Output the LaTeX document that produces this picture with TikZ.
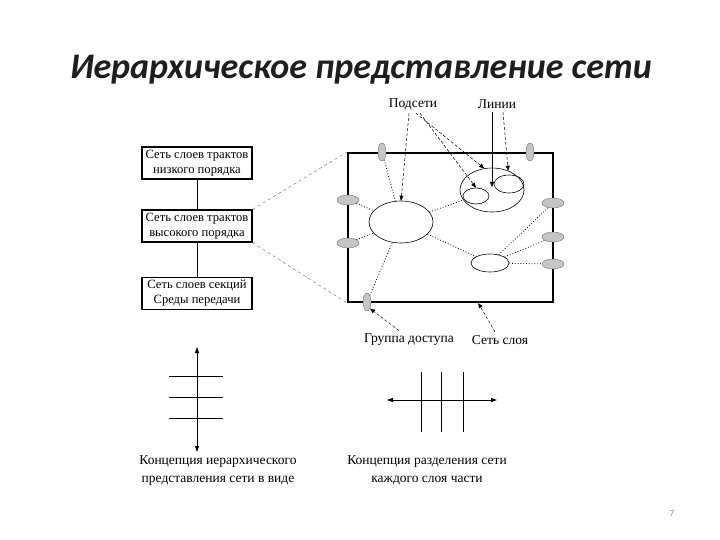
\documentclass[tikz,border=0pt]{standalone}
\usepackage{fontspec}
\setmainfont{Liberation Serif}
\newfontfamily\slidefont{Carlito}
\usetikzlibrary{arrows.meta,shapes.geometric,positioning,calc}
\definecolor{accessgray}{HTML}{C6C6C6}
\definecolor{titleink}{HTML}{1E1E1E}
\definecolor{pagegray}{HTML}{8C8C8C}

\begin{document}
\begin{tikzpicture}[x=1pt, y=-1pt,
  font=\fontsize{13.5}{15}\selectfont,
  title/.style={font=\slidefont\bfseries\itshape\fontsize{36}{40}\selectfont, text=titleink},
  layerbox/.style={draw, line width=1.3pt, align=center, inner sep=0pt,
    minimum width=110pt, minimum height=32pt, font=\fontsize{12.6}{15}\selectfont},
  netframe/.style={draw, line width=2pt, minimum width=205pt, minimum height=149pt, inner sep=0pt},
  subnet/.style={ellipse, draw, line width=0.6pt, inner sep=0pt},
  access/.style={ellipse, draw=black!55, fill=accessgray, line width=0.4pt, inner sep=0pt},
  vacc/.style={access, minimum width=8pt, minimum height=18pt},
  hacc/.style={access, minimum width=22pt, minimum height=10pt},
  link/.style={dotted, line width=0.8pt},
  pointer/.style={densely dashed, line width=0.5pt, -{Triangle[length=5pt,width=4pt]}},
  guide/.style={dashed, line width=0.4pt, draw=black!60},
  axis/.style={line width=0.8pt, {Triangle[length=6pt,width=4pt]}-{Triangle[length=6pt,width=4pt]}},
  caption/.style={align=center, font=\fontsize{13.5}{18}\selectfont}
]
\useasboundingbox (0,0) rectangle (720,540);

\node[title] (head) at (361,70) {Иерархическое представление сети};
\node[font=\slidefont\fontsize{9}{10}\selectfont, text=pagegray] (page) at (672,514) {7};

\node[layerbox] (low) at (197,163) {Сеть слоев трактов\\низкого порядка};
\node[layerbox] (high) at (197,226) {Сеть слоев трактов\\высокого порядка};
\node[layerbox] (media) at (197,293.5) {Сеть слоев секций\\Среды передачи};
\draw[line width=0.6pt] (low) -- (high);
\draw[line width=0.6pt] (high) -- (media);

\node[netframe] (net) at (450.5,227.5) {};
\draw[guide] (high.north east) -- (net.north west);
\draw[guide] (high.south east) -- (net.south west);

\node[subnet, minimum width=64pt, minimum height=42pt] (subA) at (401,222) {};
\node[subnet, minimum width=38pt, minimum height=18pt] (subB) at (490,263) {};
\node[subnet, minimum width=64pt, minimum height=44pt] (grp) at (492,190) {};
\node[subnet, minimum width=26pt, minimum height=16pt] (subC) at (476,196) {};
\node[subnet, minimum width=30pt, minimum height=18pt] (subD) at (509,184) {};
\coordinate (junc) at (492,187);

\node[vacc] (gT1) at (382,152) {};
\node[vacc] (gT2) at (530,152) {};
\node[hacc] (gL1) at (348,200) {};
\node[hacc] (gL2) at (348,243) {};
\node[hacc] (gR1) at (553,203) {};
\node[hacc] (gR2) at (553,237) {};
\node[hacc] (gR3) at (553,264) {};
\node[vacc] (gB) at (367,302) {};

\draw[link] (gT1) -- (subA);
\draw[link] (gL1) -- (subA);
\draw[link] (gL2) -- (subA);
\draw[link] (gB) -- (subA);
\draw[link] (subA) -- (subB);
\draw[link] (subA) -- (grp);
\draw[link] (subB) -- (gR1);
\draw[link] (subB) -- (gR2);
\draw[link] (subB) -- (gR3);

\node (lblSub) at (413,104) {Подсети};
\node (lblLine) at (497,104) {Линии};
\node (lblAcc) at (409,340) {Группа доступа};
\node (lblLayer) at (500,340) {Сеть слоя};
\coordinate (frameEdge) at ($(net.south west)!0.634!(net.south east)$);

\draw[pointer] ([xshift=-4pt]lblSub.south) -- (subA.north);
\draw[pointer] ([xshift=3pt]lblSub.south) -- (grp.110);
\draw[pointer] ([xshift=7pt]lblSub.south) -- (subC.north);
\draw[line width=0.5pt, -{Triangle[length=5pt,width=4pt]}] ([xshift=-5pt]lblLine.south) -- (junc);
\draw[pointer] ([xshift=6pt]lblLine.south) -- (grp.50);
\draw[pointer] ([xshift=-10pt]lblAcc.north) -- (gB.south east);
\draw[pointer] ([xshift=-5pt]lblLayer.north) -- (frameEdge);

% hierarchy concept
\coordinate (vTop) at (197,347);
\coordinate (vBot) at (197,452);
\draw[axis] (vTop) -- (vBot);
\foreach \yy in {376,397,418}
  \draw[line width=0.6pt] (169,\yy) -- (223,\yy);
\node[caption] (capH) at (218,471) {Концепция иерархического\\представления сети в виде};

% partition concept
\coordinate (hLeft) at (387,400);
\coordinate (hRight) at (497,400);
\draw[axis] (hLeft) -- (hRight);
\foreach \xx in {421,441,463}
  \draw[line width=0.6pt] (\xx,372) -- (\xx,432);
\node[caption] (capP) at (427,470) {Концепция разделения сети\\каждого слоя части};
\end{tikzpicture}
\end{document}
